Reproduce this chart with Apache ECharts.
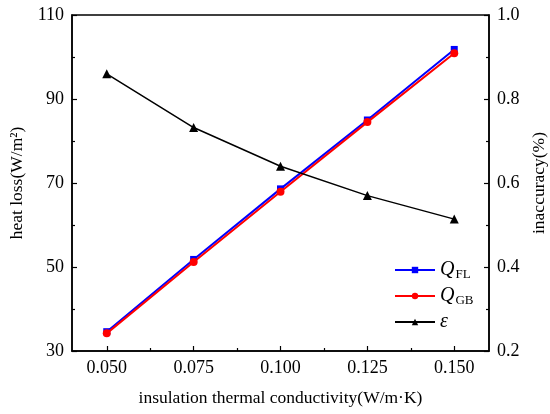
<!DOCTYPE html>
<html>
<head>
<meta charset="utf-8">
<script src="https://cdn.jsdelivr.net/npm/echarts@6/dist/echarts.min.js"></script>
<style>
  html, body { margin: 0; padding: 0; background: #fff; }
  #chart { width: 550px; height: 414px; }
</style>
</head>
<body>
<div id="chart"></div>
<script>
// values
const conductivity = [0.05, 0.075, 0.1, 0.125, 0.15]
const qFL = [34.6, 51.8, 68.6, 85.0, 101.8]
const qGB = [34.2, 51.2, 67.9, 84.5, 100.9]
const inaccuracy = [0.86, 0.732, 0.64, 0.57, 0.514]
const xMajor = [0.05, 0.075, 0.1, 0.125, 0.15]
const xMinor = [0.0625, 0.0875, 0.1125, 0.1375]

const font = 'Liberation Serif'
const pairs = ys => conductivity.map((x, i) => [x, ys[i]])

const chart = echarts.init(document.getElementById('chart'))

const axisBase = {
  axisLine: { show: true, lineStyle: { color: '#000', width: 1.5 } },
  axisTick: { inside: true, length: 5, lineStyle: { color: '#000', width: 1.2 } },
  minorTick: { show: true, splitNumber: 2, length: 3, lineStyle: { color: '#000', width: 1.2 } },
  splitLine: { show: false },
  axisLabel: { color: '#000', fontFamily: font, fontSize: 18 },
  nameTextStyle: { color: '#000', fontFamily: font, fontSize: 17.5 }
}

chart.setOption({
  animation: false,
  grid: {
    left: 72, right: 61, top: 15, bottom: 63,
    outerBoundsMode: 'none',
    containLabel: false,
    show: true, borderColor: '#000', borderWidth: 1.5
  },
  legend: {
    orient: 'vertical',
    left: 389,
    top: 255,
    itemWidth: 40,
    itemHeight: 8,
    itemGap: 5,
    data: ['FL', 'GB', 'eps'],
    formatter: name => {
      if (name === 'eps') return '{q|ε}'
      return '{q|Q}{s|' + name + '}'
    },
    textStyle: {
      color: '#000',
      fontFamily: font,
      rich: {
        q: { fontFamily: font, fontStyle: 'italic', fontSize: 20, color: '#000' },
        s: { fontFamily: font, fontSize: 13, color: '#000', verticalAlign: 'bottom', padding: [9, 0, 0, 1] }
      }
    }
  },
  xAxis: [
    Object.assign({}, axisBase, {
      type: 'value',
      min: 0.04,
      max: 0.16,
      position: 'bottom',
      name: 'insulation thermal conductivity(W/m·K)',
      nameLocation: 'middle',
      nameGap: 38,
      minorTick: { show: false },
      axisTick: Object.assign({}, axisBase.axisTick, { customValues: xMajor }),
      axisLabel: Object.assign({}, axisBase.axisLabel, {
        margin: 8,
        customValues: xMajor,
        formatter: v => v.toFixed(3)
      })
    }),
    {
      type: 'value',
      min: 0.04,
      max: 0.16,
      position: 'bottom',
      axisLine: { show: false },
      axisLabel: { show: false },
      splitLine: { show: false },
      axisTick: { inside: true, length: 3, customValues: xMinor, lineStyle: { color: '#000', width: 1.2 } }
    }
  ],
  yAxis: [
    Object.assign({}, axisBase, {
      type: 'value',
      min: 30,
      max: 110,
      interval: 20,
      position: 'left',
      name: 'heat loss(W/m²)',
      nameLocation: 'middle',
      nameGap: 40
    }),
    Object.assign({}, axisBase, {
      type: 'value',
      min: 0.2,
      max: 1.0,
      interval: 0.2,
      position: 'right',
      name: 'inaccuracy(%)',
      nameLocation: 'middle',
      nameGap: 39,
      axisLabel: Object.assign({}, axisBase.axisLabel, { formatter: v => v.toFixed(1) })
    })
  ],
  series: [
    {
      name: 'FL',
      type: 'line',
      data: pairs(qFL),
      symbol: 'rect',
      symbolSize: 7,
      itemStyle: { color: '#0000ff' },
      lineStyle: { color: '#0000ff', width: 2 },
      z: 2
    },
    {
      name: 'GB',
      type: 'line',
      data: pairs(qGB),
      symbol: 'circle',
      symbolSize: 8,
      itemStyle: { color: '#ff0000' },
      lineStyle: { color: '#ff0000', width: 2 },
      z: 3
    },
    {
      name: 'eps',
      type: 'line',
      yAxisIndex: 1,
      data: pairs(inaccuracy),
      symbol: 'triangle',
      symbolSize: 9,
      itemStyle: { color: '#000' },
      lineStyle: { color: '#000', width: 1.5 },
      z: 4
    }
  ]
})
</script>
</body>
</html>
